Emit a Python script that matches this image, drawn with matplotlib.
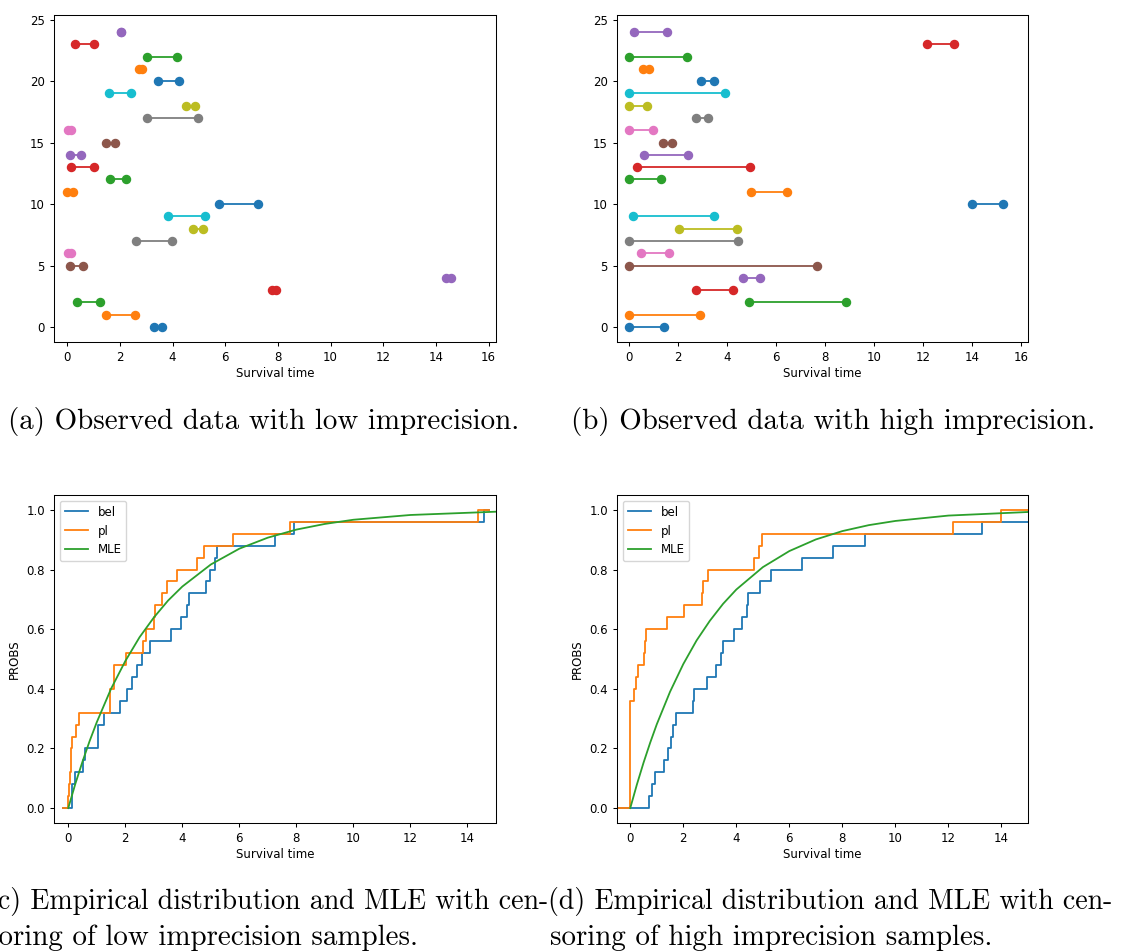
import matplotlib
matplotlib.use("Agg")
import matplotlib.pyplot as plt
import numpy as np

# ---------------- data ----------------
# (a) low imprecision intervals, row i -> [lower, upper]
low_lower = [3.28, 1.46, 0.38, 7.76, 14.38, 0.10, 0.05, 2.62, 4.77, 3.83,
             5.78, 0.00, 1.62, 0.13, 0.10, 1.46, 0.04, 3.04, 4.50, 1.60,
             3.46, 2.73, 3.02, 0.28, 2.04]
low_upper = [3.60, 2.57, 1.26, 7.92, 14.58, 0.60, 0.14, 3.97, 5.15, 5.22,
             7.24, 0.22, 2.23, 1.03, 0.51, 1.80, 0.14, 4.98, 4.84, 2.41,
             4.23, 2.85, 4.17, 1.03, 2.06]
# (b) high imprecision intervals
high_lower = [0.00, 0.00, 4.87, 2.73, 4.65, 0.00, 0.50, 0.00, 2.03, 0.14,
              14.00, 4.98, 0.00, 0.31, 0.61, 1.39, 0.00, 2.71, 0.00, 0.00,
              2.94, 0.57, 0.00, 12.16, 0.20]
high_upper = [1.43, 2.88, 8.86, 4.22, 5.32, 7.65, 1.62, 4.44, 4.39, 3.48,
              15.24, 6.46, 1.29, 4.91, 2.41, 1.74, 0.95, 3.22, 0.71, 3.92,
              3.44, 0.82, 2.37, 13.25, 1.55]

# MLE (exponential) CDF values
mle_t = [0, 0.25, 0.5, 0.75, 1, 1.5, 2, 2.5, 3, 3.5, 4, 5, 6, 7, 8, 9, 10, 12, 15]
mle_low = [0, 0.082, 0.156, 0.225, 0.288, 0.400, 0.493, 0.573, 0.639, 0.696,
           0.743, 0.817, 0.870, 0.907, 0.934, 0.953, 0.967, 0.983, 0.994]
mle_high = [0, 0.079, 0.152, 0.219, 0.281, 0.390, 0.483, 0.562, 0.628, 0.685,
            0.733, 0.808, 0.862, 0.901, 0.929, 0.949, 0.963, 0.981, 0.993]

# step-curve extent (start / end times)
ext_low = (-0.18, 14.76)
ext_high = (-0.8, 15.6)

captions = [
    "(a) Observed data with low imprecision.",
    "(b) Observed data with high imprecision.",
    ["(c) Empirical distribution and MLE with cen-", "soring of low imprecision samples."],
    ["(d) Empirical distribution and MLE with cen-", "soring of high imprecision samples."],
]

W, H = 1121, 952
fig = plt.figure(figsize=(W / 100, H / 100), dpi=100)

FS = 8.5
plt.rcParams['xtick.labelsize'] = FS
plt.rcParams['ytick.labelsize'] = FS
plt.rcParams['axes.linewidth'] = 0.75
plt.rcParams['xtick.major.width'] = 0.75
plt.rcParams['ytick.major.width'] = 0.75
plt.rcParams['xtick.major.size'] = 3.1
plt.rcParams['ytick.major.size'] = 3.1


def add_ax(l, r, t, b):
    return fig.add_axes([l / W, 1 - b / H, (r - l) / W, (b - t) / H])


def interval_panel(ax, lo, hi):
    for i, (a, b) in enumerate(zip(lo, hi)):
        ax.plot([a, b], [i, i], marker='o', markersize=5.8, linewidth=1.3)
    ax.set_xlim(-0.5, 16.28)
    ax.set_ylim(-1.22, 25.38)
    ax.set_xticks(np.arange(0, 17, 2))
    ax.set_yticks([0, 5, 10, 15, 20, 25])
    ax.set_xlabel("Survival time", fontsize=FS, labelpad=2)


def ecdf_panel(ax, lo, hi, ext, mle):
    n = len(lo)
    probs = [0] + [(k + 1) / n for k in range(n)] + [1.0]
    bel_x = [ext[0]] + sorted(hi) + [ext[1]]
    pl_x = [ext[0]] + sorted(lo) + [ext[1]]
    ax.step(bel_x, probs, where='post', color='C0', linewidth=1.3, label='bel')
    ax.step(pl_x, probs, where='post', color='C1', linewidth=1.3, label='pl')
    ax.plot(mle_t, mle, color='C2', linewidth=1.3, label='MLE')
    ax.set_xlim(-0.5, 15)
    ax.set_ylim(-0.05, 1.05)
    ax.set_xticks(np.arange(0, 15, 2))
    ax.set_yticks([0, 0.2, 0.4, 0.6, 0.8, 1.0])
    ax.set_xlabel("Survival time", fontsize=FS, labelpad=2)
    ax.set_ylabel("PROBS", fontsize=FS, labelpad=4)
    ax.legend(loc='upper left', fontsize=FS, handlelength=2.0)


ax_a = add_ax(54, 496, 15, 342)
interval_panel(ax_a, low_lower, low_upper)
ax_b = add_ax(617, 1028, 15, 342)
interval_panel(ax_b, high_lower, high_upper)
ax_c = add_ax(54, 496, 495, 823)
ecdf_panel(ax_c, low_lower, low_upper, ext_low, mle_low)
ax_d = add_ax(617, 1028, 495, 823)
ecdf_panel(ax_d, high_lower, high_upper, ext_high, mle_high)

cap_kw = dict(family='cmr10', va='center', ha='left')
fig.text(8 / W, 1 - 421 / H, captions[0], fontsize=20.9, **cap_kw)
fig.text(571 / W, 1 - 421 / H, captions[1], fontsize=20.9, **cap_kw)
fig.text(-13 / W, 1 - 901 / H, captions[2][0], fontsize=20.1, **cap_kw)
fig.text(-13 / W, 1 - 938 / H, captions[2][1], fontsize=20.9, **cap_kw)
fig.text(548 / W, 1 - 901 / H, captions[3][0], fontsize=20.1, **cap_kw)
fig.text(550 / W, 1 - 938 / H, captions[3][1], fontsize=20.9, **cap_kw)

fig.savefig("out.png", dpi=100)
